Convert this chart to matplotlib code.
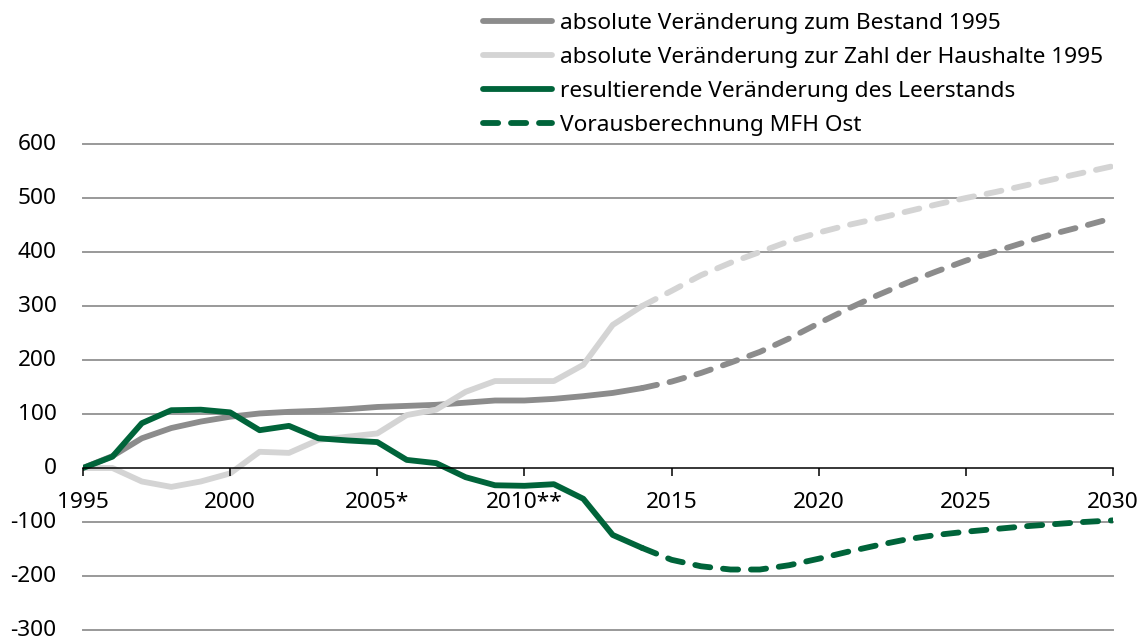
import matplotlib
matplotlib.use("Agg")
import matplotlib.pyplot as plt
import matplotlib.transforms as mtransforms
from matplotlib.lines import Line2D

plt.rcParams['font.family'] = ['Noto Sans', 'DejaVu Sans']
plt.rcParams['axes.unicode_minus'] = False

# Jahre mit Ist-Werten (bis 2014) und Vorausberechnung (ab 2014)
years_ist = list(range(1995, 2015))
years_prog = list(range(2014, 2031))

bestand_ist = [0, 22, 55, 74, 86, 95, 101, 104, 106, 109, 113, 115, 117, 121, 125, 125, 128, 133, 139, 148]
bestand_prog = [148, 160, 176, 195, 215, 240, 268, 295, 320, 343, 364, 384, 401, 418, 434, 448, 463]

haushalte_ist = [0, 0, -25, -35, -25, -10, 30, 28, 52, 58, 64, 98, 108, 141, 161, 161, 161, 191, 265, 300]
haushalte_prog = [300, 328, 357, 380, 400, 420, 436, 450, 462, 475, 488, 500, 511, 523, 535, 547, 559]

leerstand_ist = [0, 21, 83, 107, 108, 103, 70, 78, 55, 51, 48, 15, 9, -17, -32, -33, -30, -57, -124, -148]
leerstand_prog = [-148, -170, -182, -188, -188, -180, -168, -155, -143, -132, -124, -118, -113, -108, -104, -100, -97]

xtick_years = [1995, 2000, 2005, 2010, 2015, 2020, 2025, 2030]
xtick_labels = ['1995', '2000', '2005*', '2010**', '2015', '2020', '2025', '2030']
ytick_vals = [-300, -200, -100, 0, 100, 200, 300, 400, 500, 600]

labels = ['absolute Veränderung zum Bestand 1995',
          'absolute Veränderung zur Zahl der Haushalte 1995',
          'resultierende Veränderung des Leerstands',
          'Vorausberechnung MFH Ost']

c_dark = '#8c8c8c'
c_light = '#d4d4d4'
c_green = '#00643a'
lw = 4.2
dash = (2.6, 2.2)
fs = 16.3

fig = plt.figure(figsize=(11.44, 6.4), dpi=100)
ax = fig.add_axes([83 / 1144, 1 - 630 / 640, 1030 / 1144, 486 / 640])

for v in ytick_vals:
    if v != 0:
        ax.axhline(v, color='#999999', lw=1.4, zorder=1, clip_on=False)

ax.plot(years_ist, bestand_ist, color=c_dark, lw=lw, solid_capstyle='round', zorder=2)
ax.plot(years_prog, bestand_prog, color=c_dark, lw=lw, dashes=dash, dash_capstyle='round', zorder=2)
ax.plot(years_ist, haushalte_ist, color=c_light, lw=lw, solid_capstyle='round', zorder=2)
ax.plot(years_prog, haushalte_prog, color=c_light, lw=lw, dashes=dash, dash_capstyle='round', zorder=2)
ax.plot(years_ist, leerstand_ist, color=c_green, lw=lw, solid_capstyle='round', zorder=2.1)
ax.plot(years_prog, leerstand_prog, color=c_green, lw=lw, dashes=dash, dash_capstyle='round', zorder=2.1)

ax.set_xlim(1995, 2030)
ax.set_ylim(-300, 600)

for s in ['top', 'right', 'left']:
    ax.spines[s].set_visible(False)
ax.spines['bottom'].set_position(('data', 0))
ax.spines['bottom'].set_linewidth(1.1)
ax.set_axisbelow(False)

ax.set_xticks(xtick_years)
ax.set_xticklabels(xtick_labels)
ax.set_yticks(ytick_vals)
ax.tick_params(axis='x', direction='out', length=6, width=1.1, pad=11, labelsize=fs)
ax.tick_params(axis='y', length=0, pad=19, labelsize=fs)
for t in ax.get_xticklabels():
    t.set_bbox(dict(facecolor='white', edgecolor='none', pad=0))
shift_up = mtransforms.ScaledTranslation(0, 2 / 100, fig.dpi_scale_trans)
for t in ax.get_yticklabels():
    t.set_transform(t.get_transform() + shift_up)

handles = [Line2D([], [], color=c_dark, lw=lw, solid_capstyle='round'),
           Line2D([], [], color=c_light, lw=lw, solid_capstyle='round'),
           Line2D([], [], color=c_green, lw=lw, solid_capstyle='round'),
           Line2D([], [], color=c_green, lw=lw, dashes=dash, dash_capstyle='round')]
ax.legend(handles, labels, loc='upper left', bbox_to_anchor=(483 / 1144, 1 - 13 / 640),
          bbox_transform=fig.transFigure, frameon=False, fontsize=fs,
          handlelength=3.05, handletextpad=0.35, labelspacing=0.57, borderpad=0, borderaxespad=0)

fig.savefig('out.png', dpi=100)
